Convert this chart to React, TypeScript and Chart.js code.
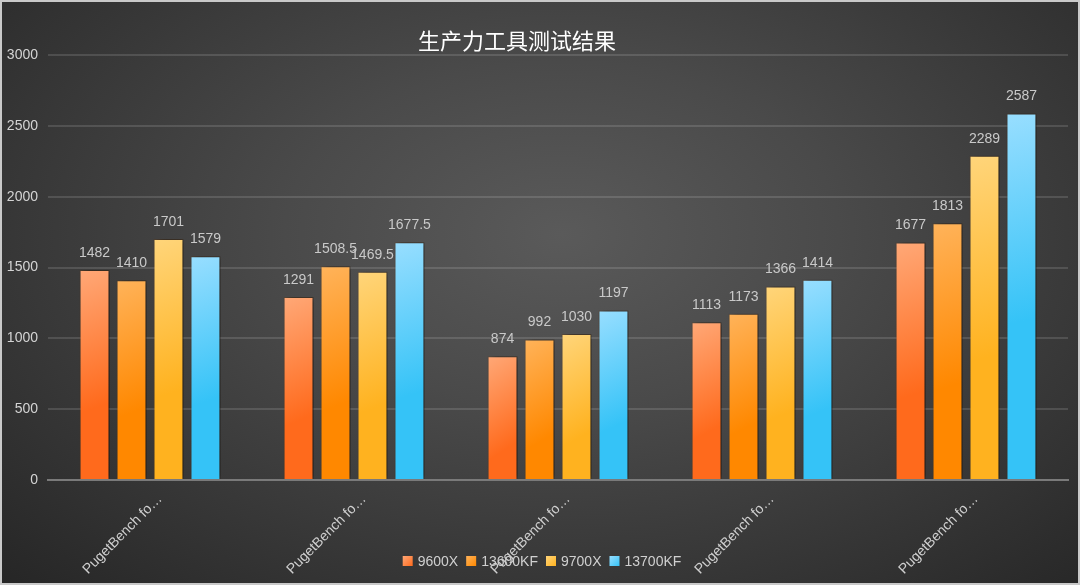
import React, { useEffect, useRef } from "react";
import { Chart, registerables } from "chart.js";

Chart.register(...registerables);

const title = "生产力工具测试结果";
const categories = [
  "PugetBench for Photoshop",
  "PugetBench for Premiere Pro",
  "PugetBench for DaVinci Resolve",
  "PugetBench for After Effects",
  "PugetBench for Lightroom Classic",
];
const seriesNames = ["9600X", "13600KF", "9700X", "13700KF"];
const s9600X = [1482, 1291, 874, 1113, 1677];
const s13600KF = [1410, 1508.5, 992, 1173, 1813];
const s9700X = [1701, 1469.5, 1030, 1366, 2289];
const s13700KF = [1579, 1677.5, 1197, 1414, 2587];
const yTicks = [0, 500, 1000, 1500, 2000, 2500, 3000];

const topColors = ["#ffa877", "#ffb35a", "#ffd57a", "#98deff"];
const bottomColors = ["#ff6a1c", "#ff8800", "#ffb21f", "#35c3f7"];

const FONT = "'Liberation Sans', Arial, sans-serif";

function makeGradient(i: number) {
  return (ctx: any) => {
    const el = ctx.element;
    const chart = ctx.chart;
    if (!el || !chart.chartArea) return bottomColors[i];
    const x = el.x, y = el.y, base = el.base, width = el.width;
    if (![x, y, base, width].every((v) => typeof v === "number" && Number.isFinite(v))) {
      return bottomColors[i];
    }
    const x0 = x - width / 2;
    const h = Math.max(1, Math.min(200, (base - y) * 0.6));
    const g = chart.ctx.createLinearGradient(x0, y, x0 + width * 1.6, y + h);
    g.addColorStop(0, topColors[i]);
    g.addColorStop(1, bottomColors[i]);
    return g;
  };
}

const shadowPlugin = {
  id: "barShadow",
  beforeDatasetsDraw(chart: any) {
    const c = chart.ctx;
    c.save();
    c.shadowColor = "rgba(0,0,0,0.6)";
    c.shadowBlur = 6;
    c.shadowOffsetX = 4;
    c.shadowOffsetY = 0;
  },
  afterDatasetsDraw(chart: any) {
    chart.ctx.restore();
  },
};

const labelPlugin = {
  id: "valueLabels",
  afterDatasetsDraw(chart: any) {
    const c = chart.ctx;
    c.save();
    c.font = `14px ${FONT}`;
    c.fillStyle = "#c9c9c9";
    c.textAlign = "center";
    c.textBaseline = "bottom";
    chart.data.datasets.forEach((ds: any, di: number) => {
      const meta = chart.getDatasetMeta(di);
      meta.data.forEach((bar: any, i: number) => {
        c.fillText(String(ds.data[i]), bar.x, bar.y - 10);
      });
    });
    c.restore();
  },
};

const titleLegendPlugin = {
  id: "titleLegend",
  afterDraw(chart: any) {
    const c = chart.ctx;
    const w = chart.width;
    c.save();
    c.font = `22px 'Noto Sans CJK SC', sans-serif`;
    c.fillStyle = "#ffffff";
    c.textAlign = "center";
    c.textBaseline = "middle";
    c.fillText(title, w / 2 - 23, 41);

    c.font = `14px ${FONT}`;
    const box = 10;
    const gapBox = 5;
    const gapItem = 8;
    const widths = seriesNames.map((n) => box + gapBox + c.measureText(n).width);
    const total = widths.reduce((a, b) => a + b, 0) + gapItem * (seriesNames.length - 1);
    let x = w / 2 - total / 2 + 2;
    const y = 561;
    seriesNames.forEach((n, i) => {
      const g = c.createLinearGradient(x, y - box / 2, x + box, y + box / 2);
      g.addColorStop(0, topColors[i]);
      g.addColorStop(1, bottomColors[i]);
      c.fillStyle = g;
      c.fillRect(x, y - box / 2, box, box);
      c.fillStyle = "#d0d0d0";
      c.textAlign = "left";
      c.textBaseline = "middle";
      c.fillText(n, x + box + gapBox, y + 1);
      x += widths[i] + gapItem;
    });
    c.restore();
  },
};

export default function App() {
  const ref = useRef<HTMLCanvasElement>(null);
  useEffect(() => {
    document.body.style.margin = "0";
    const series = [s9600X, s13600KF, s9700X, s13700KF];
    const chart = new Chart(ref.current!, {
      type: "bar",
      data: {
        labels: categories,
        datasets: series.map((d, i) => ({
          label: seriesNames[i],
          data: d,
          backgroundColor: makeGradient(i),
          borderColor: "rgba(120,60,0,0.25)",
          borderWidth: 1,
          categoryPercentage: 0.725,
          barPercentage: 0.81,
        })),
      },
      options: {
        animation: false,
        responsive: false,
        layout: { padding: { top: 55, right: 12, left: 0, bottom: 0 } },
        plugins: {
          legend: { display: false },
          title: { display: false },
          tooltip: { enabled: false },
        },
        scales: {
          x: {
            afterFit: (s: any) => {
              s.height = 105;
            },
            grid: { display: false },
            border: { color: "#7a7a7a", width: 2 },
            ticks: {
              color: "#cfcfcf",
              font: { size: 14, family: FONT },
              maxRotation: 45,
              minRotation: 45,
              labelOffset: 10,
              callback: function (this: any, v: any) {
                const l = String(this.getLabelForValue(v));
                return l.length > 13 ? l.slice(0, 13) + "…" : l;
              },
            },
          },
          y: {
            min: 0,
            max: 3000,
            afterFit: (s: any) => {
              s.width = 48;
            },
            afterBuildTicks: (s: any) => {
              s.ticks = yTicks.map((v) => ({ value: v }));
            },
            grid: { color: "rgba(255,255,255,0.13)", lineWidth: 2, drawTicks: false },
            border: { display: false },
            ticks: {
              color: "#d4d4d4",
              font: { size: 14, family: FONT },
              padding: 10,
              callback: (v: any) => String(v),
            },
          },
        },
      },
      plugins: [shadowPlugin, labelPlugin, titleLegendPlugin],
    } as any);
    chart.update("none");
    return () => chart.destroy();
  }, []);
  return (
    <div
      style={{
        position: "absolute",
        left: 0,
        top: 0,
        width: 1080,
        height: 585,
        boxSizing: "border-box",
        border: "2px solid #c9c9c9",
        background: "radial-gradient(ellipse at 52% 40%, #5a5a5a 0%, #4a4a4a 35%, #262626 100%)",
      }}
    >
      <canvas ref={ref} width={1080} height={585} style={{ position: "absolute", left: -2, top: -2 }} />
    </div>
  );
}
